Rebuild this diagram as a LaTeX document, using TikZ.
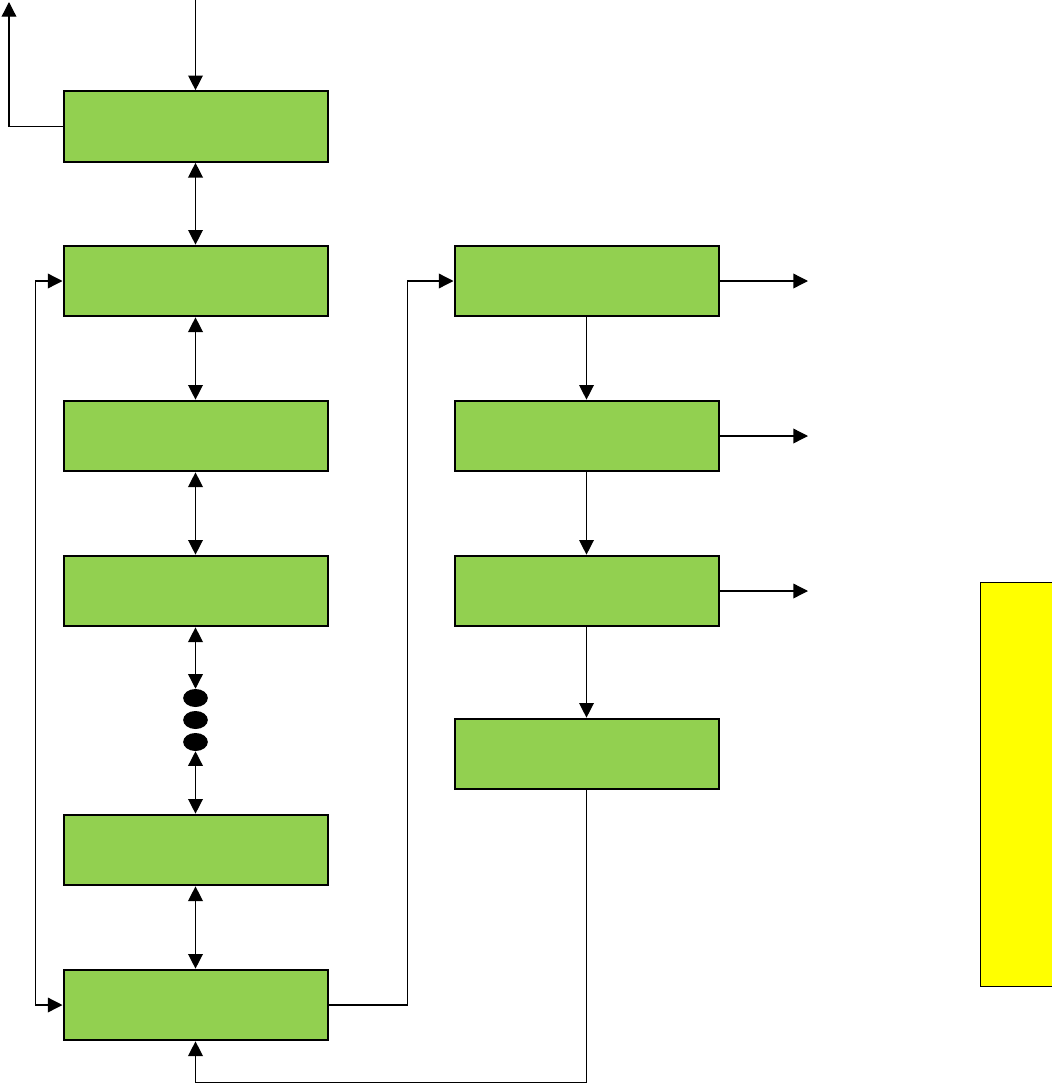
\documentclass[tikz,border=0pt]{standalone}
\usepackage{xcolor}
\usetikzlibrary{arrows.meta,shapes.geometric}
\definecolor{boxgreen}{HTML}{92D050}
\definecolor{noteyellow}{HTML}{FFFF00}

\begin{document}
\begin{tikzpicture}[
  x=0.75pt, y=-0.75pt,
  block/.style={draw, line width=1.5pt, fill=boxgreen, minimum width=198pt, minimum height=53pt, inner sep=0pt},
  note/.style={draw, line width=0.8pt, fill=noteyellow, minimum width=58pt, minimum height=303pt, inner sep=0pt, anchor=north west},
  dot/.style={ellipse, fill=black, minimum width=18.5pt, minimum height=13.5pt, inner sep=0pt},
  arrow/.style={-{Triangle[length=11pt,width=11pt]}, line width=1pt},
  twoway/.style={{Triangle[length=11pt,width=11pt]}-{Triangle[length=11pt,width=11pt]}, line width=1pt},
]
\useasboundingbox (0,0) rectangle (1051,1085);

% left column
\node[block] (s1) at (195.5,126.5) {};
\node[block] (s2) at (195.5,281) {};
\node[block] (s3) at (195.5,436) {};
\node[block] (s4) at (195.5,591) {};
\node[dot] (d1) at (195.5,698) {};
\node[dot] (d2) at (195.5,720) {};
\node[dot] (d3) at (195.5,742) {};
\node[block] (s5) at (195.5,850) {};
\node[block] (s6) at (195.5,1005) {};

% right column
\node[block] (r1) at (586.5,281) {};
\node[block] (r2) at (586.5,436) {};
\node[block] (r3) at (586.5,591) {};
\node[block] (r4) at (586.5,754) {};

\node[note] (side) at (980,582) {};

\coordinate (in) at (195.5,0);
\coordinate (out) at (9,2);
\coordinate (o1) at (808,281);
\coordinate (o2) at (808,436);
\coordinate (o3) at (808,591);

\draw[arrow] (in) -- (s1);
\draw[arrow] (s1.west) -| (out);
\draw[twoway] (s1) -- (s2);
\draw[twoway] (s2) -- (s3);
\draw[twoway] (s3) -- (s4);
\draw[twoway] (s4) -- (d1);
\draw[twoway] (d3) -- (s5);
\draw[twoway] (s5) -- (s6);
\draw[twoway] (s2.west) -- ++(-27,0) |- (s6.west);
\draw[arrow] (s6.east) -- ++(79,0) |- (r1.west);

\draw[arrow] (r1) -- (r2);
\draw[arrow] (r2) -- (r3);
\draw[arrow] (r3) -- (r4);
\draw[arrow] (r1.east) -- (o1);
\draw[arrow] (r2.east) -- (o2);
\draw[arrow] (r3.east) -- (o3);
\draw[arrow] (r4.south) -- ++(0,292) -| (s6.south);
\end{tikzpicture}
\end{document}
